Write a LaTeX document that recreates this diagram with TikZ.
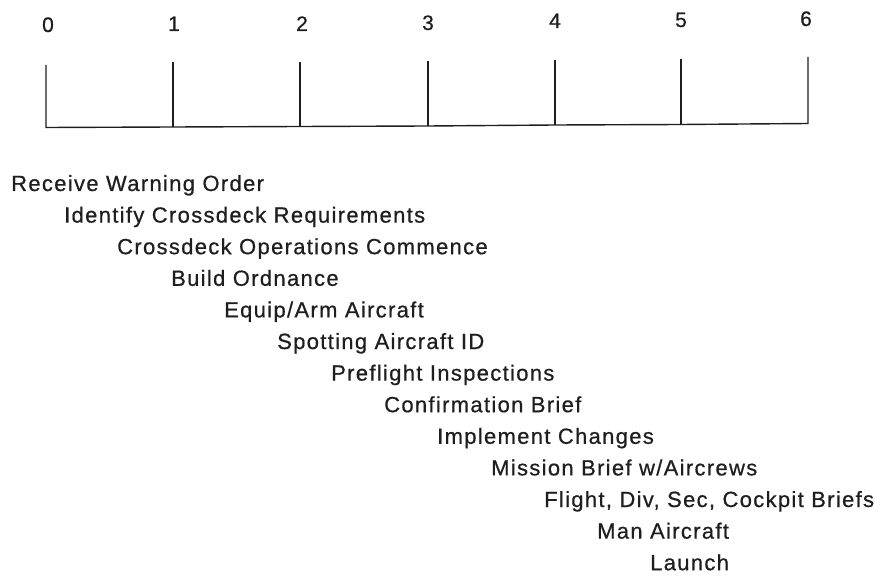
\documentclass[tikz,border=0pt]{standalone}
\usepackage{fontspec}
\setmainfont{Liberation Sans}[LetterSpace=6,FakeBold=0.6]
\definecolor{ink}{HTML}{1E1E1E}
\begin{document}
\begin{tikzpicture}[x=1pt,y=-1pt,
  lbl/.style={inner sep=0pt,anchor=base west,text=ink,font=\fontsize{22}{26}\selectfont},
  num/.style={inner sep=0pt,anchor=base,text=ink,font=\fontsize{21}{25}\selectfont},
  axisline/.style={draw=ink,line width=1.4pt}]
\useasboundingbox (0,0) rectangle (885,577);
% tick labels
\node[num] (n0) at (48,32) {0};
\node[num] (n1) at (174,31) {1};
\node[num] (n2) at (302,31) {2};
\node[num] (n3) at (428,30) {3};
\node[num] (n4) at (555,28) {4};
\node[num] (n5) at (681,27) {5};
\node[num] (n6) at (806,26) {6};
% axis
\coordinate (b0) at (46,127.5);
\coordinate (b1) at (173,127);
\coordinate (b2) at (300,126.5);
\coordinate (b3) at (428,126);
\coordinate (b4) at (555,125);
\coordinate (b5) at (681,124.5);
\coordinate (b6) at (808,123.5);
\draw[axisline] (46,65) -- (b0) -- (b1) -- (b2) -- (b3) -- (b4) -- (b5) -- (b6) -- (808,57);
\draw[axisline] (b1) -- (173,62);
\draw[axisline] (b2) -- (300,62);
\draw[axisline] (b3) -- (428,61);
\draw[axisline] (b4) -- (555,60);
\draw[axisline] (b5) -- (681,59);
% activities
\node[lbl] (a1)  at (11,191)   {Receive Warning Order};
\node[lbl] (a2)  at (64,222.6) {Identify Crossdeck Requirements};
\node[lbl] (a3)  at (117,254.2) {Crossdeck Operations Commence};
\node[lbl] (a4)  at (171,285.8) {Build Ordnance};
\node[lbl] (a5)  at (224,317.4) {Equip/Arm Aircraft};
\node[lbl] (a6)  at (277,349)  {Spotting Aircraft ID};
\node[lbl] (a7)  at (331,380.6) {Preflight Inspections};
\node[lbl] (a8)  at (384,412.2) {Confirmation Brief};
\node[lbl] (a9)  at (437,443.8) {Implement Changes};
\node[lbl] (a10) at (491,475.4) {Mission Brief w/Aircrews};
\node[lbl] (a11) at (544,507)  {Flight, Div, Sec, Cockpit Briefs};
\node[lbl] (a12) at (597,538.6) {Man Aircraft};
\node[lbl] (a13) at (650,570.2) {Launch};
\end{tikzpicture}
\end{document}
